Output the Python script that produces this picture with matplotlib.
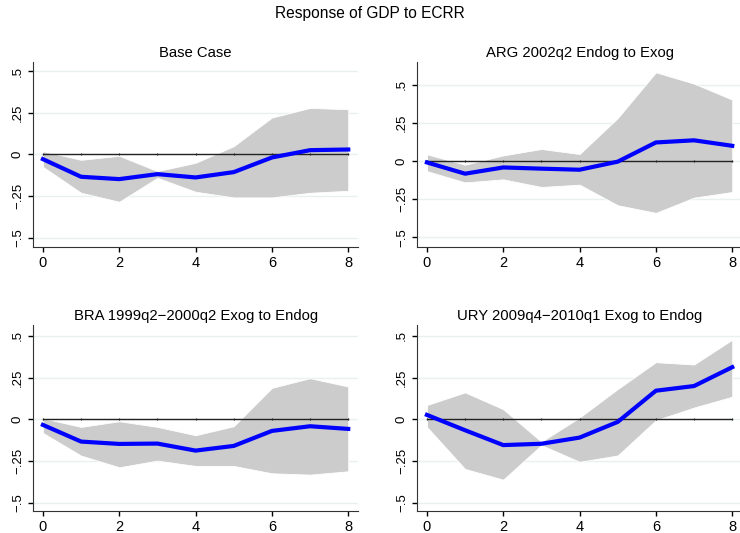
import numpy as np
import matplotlib.pyplot as plt

plt.rcParams['font.family'] = ['Liberation Sans', 'DejaVu Sans']

# horizon
steps = [0, 1, 2, 3, 4, 5, 6, 7, 8]

titles = ["Base Case",
          "ARG 2002q2 Endog to Exog",
          "BRA 1999q2\u22122000q2 Exog to Endog",
          "URY 2009q4\u22122010q1 Exog to Endog"]

# impulse responses (point estimate, upper band, lower band)
base_irf = [-0.028, -0.134, -0.148, -0.118, -0.138, -0.106, -0.018, 0.026, 0.030]
base_hi = [0.020, -0.032, -0.008, -0.100, -0.050, 0.050, 0.222, 0.280, 0.272]
base_lo = [-0.074, -0.230, -0.284, -0.140, -0.224, -0.258, -0.258, -0.230, -0.218]

arg_irf = [-0.009, -0.083, -0.042, -0.050, -0.057, -0.004, 0.122, 0.136, 0.100]
arg_hi = [0.044, -0.024, 0.037, 0.079, 0.046, 0.282, 0.582, 0.508, 0.403]
arg_lo = [-0.066, -0.140, -0.120, -0.170, -0.155, -0.290, -0.340, -0.240, -0.203]

bra_irf = [-0.034, -0.134, -0.148, -0.146, -0.188, -0.160, -0.070, -0.042, -0.058]
bra_hi = [0.006, -0.046, -0.012, -0.046, -0.096, -0.042, 0.188, 0.246, 0.196]
bra_lo = [-0.082, -0.218, -0.288, -0.248, -0.280, -0.280, -0.324, -0.332, -0.312]

ury_irf = [0.026, -0.066, -0.155, -0.147, -0.110, -0.016, 0.171, 0.199, 0.312]
ury_hi = [0.085, 0.161, 0.060, -0.135, 0.010, 0.181, 0.342, 0.328, 0.477]
ury_lo = [-0.046, -0.298, -0.362, -0.155, -0.255, -0.217, -0.006, 0.070, 0.135]

yticks = [-0.5, -0.25, 0, 0.25, 0.5]
ytick_labels = ["\u2212.5", "\u2212.25", "0", ".25", ".5"]

panels = [
    (base_irf, base_hi, base_lo, [0.0446, 0.5366, 0.4394, 0.3471], (-0.556, 0.556)),
    (arg_irf, arg_hi, arg_lo, [0.5635, 0.5366, 0.4394, 0.3471], (-0.564, 0.65)),
    (bra_irf, bra_hi, bra_lo, [0.0446, 0.0413, 0.4394, 0.3490], (-0.55, 0.565)),
    (ury_irf, ury_hi, ury_lo, [0.5635, 0.0413, 0.4394, 0.3490], (-0.55, 0.565)),
]

fig = plt.figure(figsize=(7.4, 5.33), dpi=100)
fig.text(0.5, 0.974, "Response of GDP to ECRR", ha='center', va='center', fontsize=11.2)

for (irf, hi, lo, pos, ylim), title in zip(panels, titles):
    ax = fig.add_axes(pos)
    for t in yticks:
        ax.axhline(t, color='#e8f0f1', lw=1, zorder=0)
    ax.fill_between(steps, lo, hi, color='#cccccc', edgecolor='white', lw=0.6, zorder=1)
    ax.plot(steps, np.zeros(len(steps)), color='#222222', lw=1, marker='|', ms=2, mew=0.8, zorder=2)
    ax.plot(steps, irf, color='#0000ff', lw=3, zorder=3, solid_joinstyle='round')
    ax.set_xlim(-0.26, 8.26)
    ax.set_ylim(*ylim)
    ax.set_xticks([0, 2, 4, 6, 8])
    ax.set_yticks(yticks)
    ax.set_yticklabels(ytick_labels, rotation=90, va='center')
    ax.tick_params(direction='out', length=3.5, width=1, colors='black', pad=3)
    ax.tick_params(axis='x', labelsize=10.5)
    ax.tick_params(axis='y', labelsize=9.5)
    for s in ['top', 'right']:
        ax.spines[s].set_visible(False)
    for s in ['left', 'bottom']:
        ax.spines[s].set_color('#333333')
    ax.set_title(title, fontsize=10.7, pad=3.5)

plt.savefig("out.png", dpi=100)
